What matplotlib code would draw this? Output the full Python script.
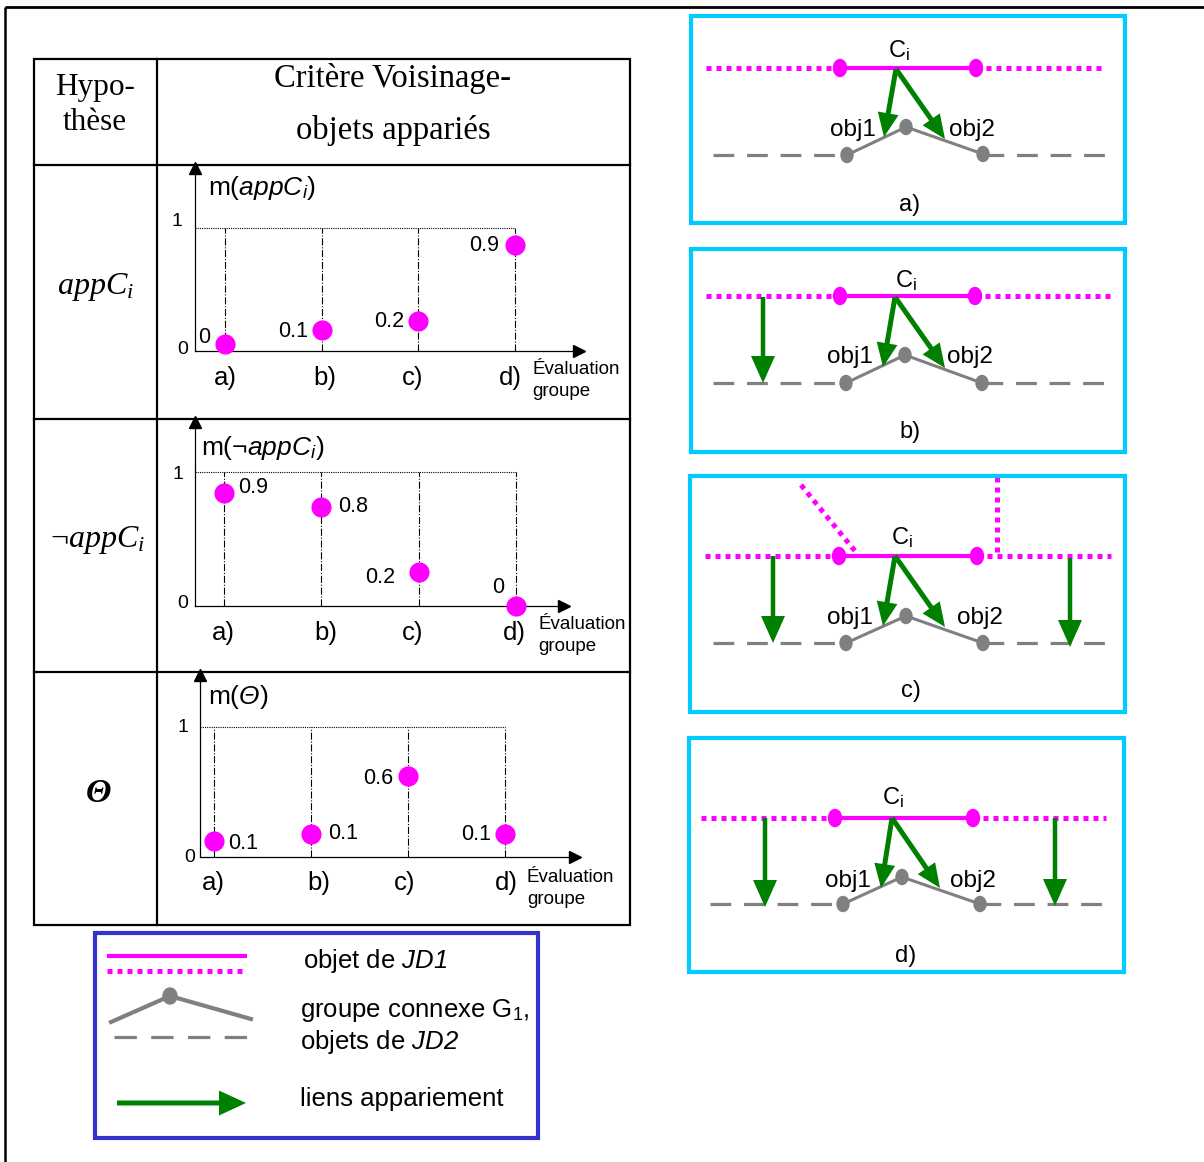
import matplotlib
matplotlib.use("Agg")
import matplotlib.pyplot as plt
from matplotlib.patches import FancyArrow, Ellipse, Rectangle

plt.rcParams['font.family'] = ['Liberation Sans', 'DejaVu Sans']
plt.rcParams['mathtext.fontset'] = 'custom'
plt.rcParams['mathtext.rm'] = 'Liberation Serif'
plt.rcParams['mathtext.it'] = 'Liberation Serif:italic'
plt.rcParams['mathtext.sf'] = 'Liberation Sans:italic'
plt.rcParams['mathtext.bf'] = 'Liberation Sans'

# ---------------- data ----------------
categories = ["a)", "b)", "c)", "d)"]
cat_pos = [0, 1, 2, 3]

m_app = [0.06, 0.17, 0.24, 0.86]
m_app_labels = ["0", "0.1", "0.2", "0.9"]

m_notapp = [0.84, 0.74, 0.25, 0.0]
m_notapp_labels = ["0.9", "0.8", "0.2", "0"]

m_theta = [0.12, 0.18, 0.62, 0.18]
m_theta_labels = ["0.1", "0.1", "0.6", "0.1"]

W, H = 1204, 1162
MAG = '#ff00ff'
GREEN = '#008000'
GRAY = '#808080'
CYAN = '#00ccff'
BLUE = '#3333cc'

fig = plt.figure(figsize=(W / 100, H / 100), dpi=100)
ax = fig.add_axes([0, 0, 1, 1])
ax.set_xlim(0, W)
ax.set_ylim(H, 0)
ax.axis('off')

# outer frame
ax.plot([5, W], [7, 7], color='k', lw=2, solid_capstyle='butt')
ax.plot([5, 5], [7, H], color='k', lw=1.8, solid_capstyle='butt')

# ---------------- table ----------------
tl, tr, tt, tb = 34, 630, 59, 925
col = 157
rows = [165, 419, 672]
lw_t = 1.6
ax.add_patch(Rectangle((tl, tt), tr - tl, tb - tt, fill=False, lw=lw_t, ec='k'))
ax.plot([col, col], [tt, tb], color='k', lw=lw_t)
for r in rows:
    ax.plot([tl, tr], [r, r], color='k', lw=lw_t)

serif = 'Liberation Serif'
ax.text(95, 87, "Hypo-", family=serif, fontsize=22.5, ha='center', va='center')
ax.text(95, 122, "thèse", family=serif, fontsize=22.5, ha='center', va='center')
ax.text(392, 78, "Critère Voisinage-", family=serif, fontsize=23.5, ha='center', va='center')
ax.text(393, 131, "objets appariés", family=serif, fontsize=23.5, ha='center', va='center')
ax.text(95, 287, r"$appC_i$", fontsize=23, ha='center', va='center')
ax.text(97, 540, r"$\neg appC_i$", fontsize=23, ha='center', va='center')
ax.text(99, 793, "Θ", family=serif, style='italic', weight='bold', fontsize=24,
        ha='center', va='center')


# ---------------- charts ----------------
def chart(yaxis_x, first, last, y0, y1, top, right, values, labels, lab_off,
          tick1_off, tick0_off, title, title_off, cat_dx, cat_dy, eval_off):
    xu = (last - first) / 3.0
    yu = float(y0 - y1)
    cax = fig.add_axes([yaxis_x / W, 1 - y0 / H, (right - yaxis_x) / W, (y0 - top) / H])
    cax.set_facecolor('none')
    x_left = (yaxis_x - first) / xu
    x_right = (right - first) / xu
    y_top = (y0 - top) / yu
    cax.set_xlim(x_left, x_right)
    cax.set_ylim(0, y_top)
    for s in ['top', 'right']:
        cax.spines[s].set_visible(False)
    for s in ['left', 'bottom']:
        cax.spines[s].set_linewidth(0.9)
    cax.set_xticks([])
    cax.set_yticks([])
    # arrowheads
    cax.plot([1], [0], marker='>', ms=9, color='k', transform=cax.transAxes, clip_on=False)
    cax.plot([0], [1], marker='^', ms=9, color='k', transform=cax.transAxes, clip_on=False)
    # guide lines
    cax.hlines(1, x_left, cat_pos[-1], colors='k', linestyles=(0, (1, 1)), lw=0.8)
    cax.vlines(cat_pos, 0, 1, colors='k', linestyles='-.', lw=0.8)
    cax.scatter(cat_pos, values, s=210, color=MAG, zorder=3, clip_on=False, linewidths=0)
    for x, v, lab, (dx, dy) in zip(cat_pos, values, labels, lab_off):
        cax.annotate(lab, (x, v), xytext=(dx, dy), textcoords='offset pixels',
                     ha='center', va='center', fontsize=15.5)
    cax.annotate("1", (x_left, 1), xytext=tick1_off, textcoords='offset pixels',
                 ha='center', va='center', fontsize=14, annotation_clip=False)
    cax.annotate("0", (x_left, 0), xytext=tick0_off, textcoords='offset pixels',
                 ha='center', va='center', fontsize=14, annotation_clip=False)
    cax.annotate(title, (x_left, y_top), xytext=title_off, textcoords='offset pixels',
                 ha='left', va='center', fontsize=19, annotation_clip=False)
    for x, c, dx in zip(cat_pos, categories, cat_dx):
        cax.annotate(c, (x, 0), xytext=(dx, cat_dy), textcoords='offset pixels',
                     ha='center', va='center', fontsize=18.5, annotation_clip=False)
    ex, ey = eval_off
    cax.annotate("Évaluation", (cat_pos[-1], 0), xytext=(ex, ey), textcoords='offset pixels',
                 ha='left', va='center', fontsize=13.5, annotation_clip=False)
    cax.annotate("groupe", (cat_pos[-1], 0), xytext=(ex, ey - 22), textcoords='offset pixels',
                 ha='left', va='center', fontsize=13.5, annotation_clip=False)
    return cax


chart(195, 225, 515, 351, 228, 168, 579, m_app, m_app_labels,
      [(-21, 6), (-29, -1), (-29, 0), (-31, 0)], (-18, 6), (-12, 1),
      r"m($\mathsf{appC}_\mathsf{i}$)", (13, -20), [0, 3, -6, -5], -27, (17, -19))

chart(195, 224, 516, 606, 472, 422, 564, m_notapp, m_notapp_labels,
      [(29, 6), (32, 0), (-38, -5), (-18, 18)], (-17, -3), (-12, 2),
      r"m(¬$\mathsf{appC}_\mathsf{i}$)", (6, -26), [-1, 4, -6, -2], -27, (22, -19))

chart(200, 214, 505, 857, 727, 675, 575, m_theta, m_theta_labels,
      [(29, -2), (32, 0), (-30, -2), (-29, -1)], (-17, -1), (-10, 0),
      r"m($\mathsf{Θ}$)", (8, -22), [-1, 8, -3, 1], -26, (22, -21))


# ---------------- right panels ----------------
def green_arrow(x0, y0, x1, y1, w=5, hw=21, hl=24):
    ax.add_patch(FancyArrow(x0, y0, x1 - x0, y1 - y0, width=w, head_width=hw,
                            head_length=hl, length_includes_head=True,
                            color=GREEN, lw=0, zorder=5))


def dotted_mag(xs, ys):
    ax.plot(xs, ys, color=MAG, lw=3.6, ls=(0, (1, 1)), solid_capstyle='butt',
            dash_capstyle='butt', zorder=3)


def panel(box, my, mx, gy, gpts, start, tips, extras, ci, o1, o2, lab, lab_pos):
    x0, y0, x1, y1 = box
    ax.add_patch(Rectangle((x0, y0), x1 - x0, y1 - y0, fill=False, lw=3, ec=CYAN, zorder=6))
    d0, e1, e2, d1 = mx
    dotted_mag([d0, e1], [my, my])
    dotted_mag([e2, d1], [my, my])
    ax.plot([e1, e2], [my, my], color=MAG, lw=3, zorder=3)
    for ex in (e1, e2):
        ax.add_patch(Ellipse((ex, my), 13, 17, color=MAG, zorder=4))
    # gray
    g0, g1 = gpts[0][0], gpts[-1][0]
    ax.plot([713 if x0 > 689 else 710, g0], [gy, gy], color=GRAY, lw=2.3,
            ls=(0, (6.5, 4)), zorder=2)
    ax.plot([g1, 1110], [gy, gy], color=GRAY, lw=2.3, ls=(0, (6.5, 4)), zorder=2)
    ax.plot([p[0] for p in gpts], [p[1] for p in gpts], color=GRAY, lw=2.2, zorder=2)
    for p in gpts:
        ax.add_patch(Ellipse(p, 12, 15, color=GRAY, zorder=3))
    for t in tips:
        green_arrow(start[0], start[1], t[0], t[1])
    for (ex, ey0, ey1) in extras:
        green_arrow(ex, ey0, ex, ey1, w=4.5, hw=24, hl=27)
    ax.text(ci[0], ci[1], r"C$_\mathbf{i}$", fontsize=17, ha='center', va='center', zorder=7)
    ax.text(o1[0], o1[1], "obj1", fontsize=17.5, ha='center', va='center', zorder=7)
    ax.text(o2[0], o2[1], "obj2", fontsize=17.5, ha='center', va='center', zorder=7)
    ax.text(lab_pos[0], lab_pos[1], lab, fontsize=17, ha='center', va='center', zorder=7)


panel((691, 16, 1125, 223), 68, (706, 840, 976, 1105), 155,
      [(847, 155), (906, 127), (983, 154)], (896, 69), [(884, 137), (945, 139)], [],
      (899, 51), (853, 130), (972, 130), "a)", (910, 205))

panel((691, 249, 1125, 452), 296, (706, 840, 975, 1110), 383,
      [(846, 383), (905, 355), (982, 383)], (895, 297), [(883, 367), (945, 368)],
      [(763, 297, 383)],
      (906, 281), (850, 357), (970, 357), "b)", (910, 432))

# extra dotted objects in panel c
dotted_mag([801, 855], [485, 551])
dotted_mag([997, 997], [477, 553])
panel((690, 476, 1125, 712), 556, (705, 839, 977, 1111), 643,
      [(846, 643), (906, 616), (983, 643)], (895, 556), [(883, 626), (945, 627)],
      [(773, 556, 643), (1070, 558, 647)],
      (902, 538), (850, 618), (980, 618), "c)", (911, 691))

panel((689, 738, 1124, 972), 818, (701, 835, 973, 1106), 904,
      [(843, 904), (902, 877), (980, 904)], (892, 818), [(881, 888), (940, 888)],
      [(765, 818, 907), (1055, 818, 906)],
      (893, 798), (848, 881), (973, 881), "d)", (906, 956))

# ---------------- legend ----------------
ax.add_patch(Rectangle((95, 933), 538 - 95, 1138 - 933, fill=False, lw=3, ec=BLUE, zorder=6))
ax.plot([107, 247], [956, 956], color=MAG, lw=3, solid_capstyle='butt')
dotted_mag([107, 247], [971, 971])
ax.plot([111, 170, 251], [1022, 996, 1019], color=GRAY, lw=3)
ax.add_patch(Ellipse((170, 996), 14, 16, color=GRAY))
ax.plot([114, 247], [1037, 1037], color=GRAY, lw=2.3, ls=(0, (7, 4.5)))
green_arrow(117, 1103, 246, 1103, w=5, hw=25, hl=27)
ax.text(303, 961, r"objet de $\mathsf{JD1}$", fontsize=18.5, ha='left', va='center')
ax.text(300, 1011, r"groupe connexe G$_\mathbf{1}$,", fontsize=18.5, ha='left', va='center')
ax.text(300, 1042, r"objets de $\mathsf{JD2}$", fontsize=18.5, ha='left', va='center')
ax.text(300, 1099, "liens appariement", fontsize=18.5, ha='left', va='center')

fig.savefig("out.png", dpi=100)
